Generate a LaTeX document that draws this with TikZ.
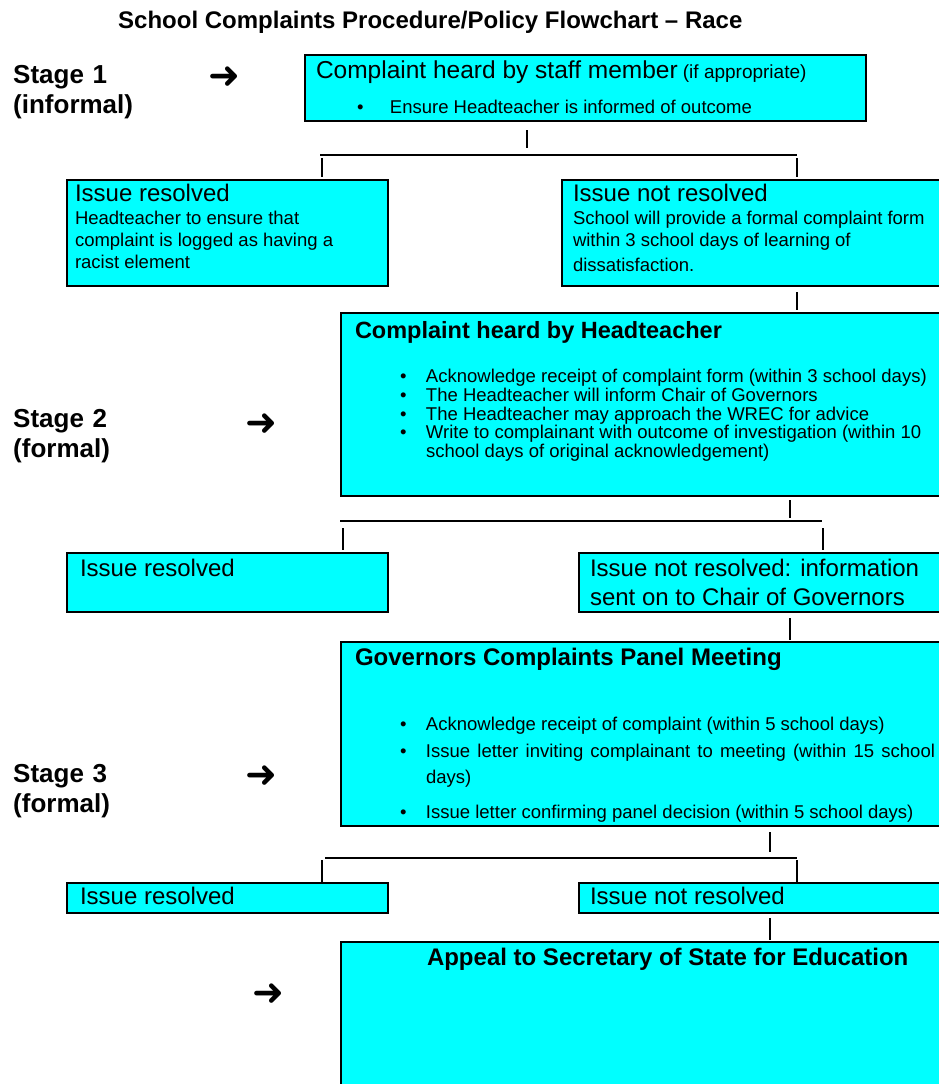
\documentclass[tikz,border=0pt]{standalone}
\usepackage{fontspec}
\setmainfont{Liberation Sans}
\newfontfamily\dingfont{DejaVu Sans}
\definecolor{boxcyan}{RGB}{0,255,255}

% one line of box text, #1 = distance from the baseline above
\newcommand{\tline}[2]{\par\noindent\rule{0pt}{#1}\raisebox{0pt}[0pt][0pt]{#2}}
\newcommand{\boxtext}[3]{\parbox[c][#2][t]{#1}{\offinterlineskip#3}}
\newcommand{\bitem}[1]{\hspace*{48pt}\makebox[26pt][l]{\textbullet}#1}

\begin{document}
\begin{tikzpicture}[x=1pt,y=-1pt,
    panel/.style={draw=black,line width=1.2pt,fill=boxcyan,anchor=north west,
      inner xsep=11pt,inner ysep=0pt,outer sep=0pt,font=\fontsize{18.5}{20}\selectfont},
    stagelbl/.style={anchor=base west,inner sep=0pt,align=left,text width=150pt,
      font=\bfseries\fontsize{26}{30}\selectfont},
    pointer/.style={inner sep=0pt,font=\dingfont\bfseries\fontsize{38}{38}\selectfont},
    link/.style={draw=black,line width=1.2pt}]
  \useasboundingbox (0,0) rectangle (938,1084);
  % Title
  \node[anchor=base west,inner sep=0pt,font=\bfseries\fontsize{24}{26}\selectfont] (title) at (118,28)
    {School Complaints Procedure/Policy Flowchart – Race};

  % Stage 1
  \node[stagelbl] (st1) at (13,83) {Stage 1\\(informal)};
  \node[pointer] (ar1) at (224,78) {➜};
  \node[panel] (s1) at (305,55) {\boxtext{539pt}{66pt}{%
    \tline{23pt}{{\fontsize{24.5}{26}\selectfont Complaint heard by staff member} {\fontsize{19}{20}\selectfont(if appropriate)}}%
    \tline{35pt}{\hspace*{41pt}\makebox[33pt][l]{\textbullet}Ensure Headteacher is informed of outcome}}};
  \node[panel] (res1) at (67,180) {\boxtext{299pt}{106pt}{%
    \tline{21pt}{\hspace*{-3pt}{\fontsize{24}{26}\selectfont Issue resolved}}%
    \tline{23pt}{\hspace*{-3pt}Headteacher to ensure that}%
    \tline{22pt}{\hspace*{-3pt}complaint is logged as having a}%
    \tline{22pt}{\hspace*{-3pt}racist element}}};
  \node[panel] (nres1) at (562,180) {\boxtext{362pt}{106pt}{%
    \tline{21pt}{{\fontsize{24}{26}\selectfont Issue not resolved}}%
    \tline{23pt}{School will provide a formal complaint form}%
    \tline{22pt}{within 3 school days of learning of}%
    \tline{25pt}{dissatisfaction.}}};

  % Stage 2
  \node[stagelbl] (st2) at (13,427) {Stage 2\\(formal)};
  \node[pointer] (ar2) at (261,425) {➜};
  \node[panel] (ht) at (341,313) {\boxtext{583pt}{183pt}{%
    \tline{25pt}{\hspace*{3pt}{\bfseries\fontsize{23.5}{26}\selectfont Complaint heard by Headteacher}}%
    \tline{44pt}{\bitem{Acknowledge receipt of complaint form (within 3 school days)}}%
    \tline{19pt}{\bitem{The Headteacher will inform Chair of Governors}}%
    \tline{19pt}{\bitem{The Headteacher may approach the WREC for advice}}%
    \tline{18pt}{\bitem{Write to complainant with outcome of investigation (within 10}}%
    \tline{19pt}{\hspace*{74pt}school days of original acknowledgement)}}};
  \node[panel] (res2) at (67,553) {\boxtext{299pt}{59pt}{%
    \tline{23pt}{\hspace*{2pt}{\fontsize{24}{26}\selectfont Issue resolved}}}};
  \node[panel] (nres2) at (579,553) {\boxtext{345pt}{59pt}{\fontsize{24}{26}\selectfont
    \tline{23pt}{Issue not resolved: information}%
    \tline{29pt}{sent on to Chair of Governors}}};

  % Stage 3
  \node[stagelbl] (st3) at (13,782) {Stage 3\\(formal)};
  \node[pointer] (ar3) at (261,777) {➜};
  \node[panel] (gov) at (341,642) {\boxtext{583pt}{184pt}{%
    \tline{23pt}{\hspace*{3pt}{\bfseries\fontsize{24}{26}\selectfont Governors Complaints Panel Meeting}}%
    \tline{65pt}{\bitem{Acknowledge receipt of complaint (within 5 school days)}}%
    \tline{27pt}{\bitem{\makebox[509pt][s]{Issue letter inviting complainant to meeting (within 15 school}}}%
    \tline{26pt}{\hspace*{74pt}days)}%
    \tline{35pt}{\bitem{Issue letter confirming panel decision (within 5 school days)}}}};
  \node[panel] (res3) at (67,883) {\boxtext{299pt}{30pt}{%
    \tline{21pt}{\hspace*{2pt}{\fontsize{24}{26}\selectfont Issue resolved}}}};
  \node[panel] (nres3) at (579,883) {\boxtext{345pt}{30pt}{%
    \tline{21pt}{{\fontsize{24}{26}\selectfont Issue not resolved}}}};

  % Appeal
  \node[pointer] (ar4) at (268,995) {➜};
  \node[panel] (app) at (341,942) {\boxtext{583pt}{148pt}{%
    \tline{23pt}{\hspace*{75pt}{\bfseries\fontsize{24}{26}\selectfont Appeal to Secretary of State for Education}}}};

  % Connectors
  \coordinate (k1) at (527,155);
  \coordinate (k1w) at (320,155);
  \coordinate (k1l) at (322,155);
  \coordinate (k1e) at (797,155);
  \draw[link,shorten <=9pt,shorten >=7pt] (s1.south -| k1) -- (k1);
  \draw[link] (k1w) -- (k1e);
  \draw[link,shorten <=3pt,shorten >=3pt] (k1l) -- (k1l |- res1.north);
  \draw[link,shorten <=3pt,shorten >=3pt] (k1e) -- (k1e |- nres1.north);
  \draw[link,shorten <=6pt,shorten >=3pt] (nres1.south -| k1e) -- (ht.north -| k1e);

  \coordinate (k2) at (790,521);
  \coordinate (k2w) at (340,521);
  \coordinate (k2l) at (343,521);
  \coordinate (k2e) at (822,521);
  \coordinate (k2r) at (823,521);
  \draw[link,shorten <=4pt,shorten >=3pt] (ht.south -| k2) -- (k2);
  \draw[link] (k2w) -- (k2e);
  \draw[link,shorten <=7pt,shorten >=3pt] (k2l) -- (k2l |- res2.north);
  \draw[link,shorten <=7pt,shorten >=3pt] (k2r) -- (k2r |- nres2.north);
  \draw[link,shorten <=6pt,shorten >=2pt] (nres2.south -| k2) -- (gov.north -| k2);

  \coordinate (k3) at (770,858);
  \coordinate (k3w) at (325,858);
  \coordinate (k3l) at (322,858);
  \coordinate (k3e) at (797,858);
  \draw[link,shorten <=6pt,shorten >=6pt] (gov.south -| k3) -- (k3);
  \draw[link] (k3w) -- (k3e);
  \draw[link,shorten <=2pt] (k3l) -- (k3l |- res3.north);
  \draw[link,shorten <=2pt] (k3e) -- (k3e |- nres3.north);
  \draw[link,shorten <=5pt,shorten >=2pt] (nres3.south -| k3) -- (app.north -| k3);
\end{tikzpicture}
\end{document}
